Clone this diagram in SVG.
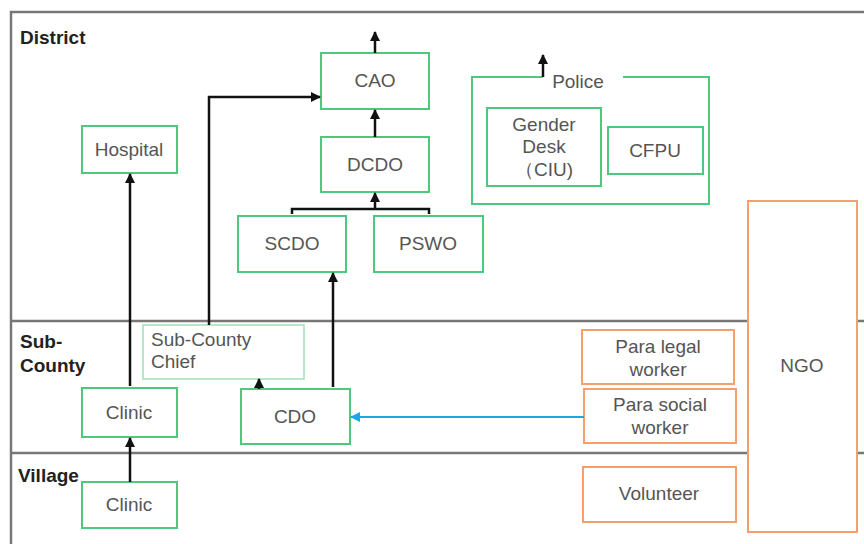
<svg xmlns="http://www.w3.org/2000/svg" width="864" height="544" viewBox="0 0 864 544">
<defs>
<marker id="ah" viewBox="0 0 10 10" refX="9" refY="5" markerWidth="4" markerHeight="4" orient="auto-start-reverse" markerUnits="strokeWidth"><path d="M0,0 L10,5 L0,10 z" fill="#111"/></marker>
<marker id="ahb" viewBox="0 0 10 10" refX="9" refY="5" markerWidth="5" markerHeight="5" orient="auto" markerUnits="strokeWidth"><path d="M0,0 L10,5 L0,10 z" fill="#1aa7e8"/></marker>
<style>
.frame{fill:none;stroke:#777;stroke-width:2.5}
.g{fill:#fff;stroke:#4cc97e;stroke-width:2}
.gl{fill:#fff;stroke:#9fe0b8;stroke-width:1.5}
.o{fill:#fff;stroke:#f4a06e;stroke-width:2}
.t{font-family:"Liberation Sans",Arial,sans-serif;font-size:19px;fill:#555;text-anchor:middle}
.tl{font-family:"Liberation Sans",Arial,sans-serif;font-size:19px;fill:#555}
.lab{font-family:"Liberation Sans",Arial,sans-serif;font-size:19px;font-weight:bold;fill:#222}
.c{fill:none;stroke:#111;stroke-width:2.5}
</style>
</defs>
<g id="frame">
<path class="frame" d="M11,544 V12 H864"/>
<line class="frame" x1="11" y1="321" x2="864" y2="321"/>
<line class="frame" x1="11" y1="453" x2="864" y2="453"/>
<text class="lab" x="20" y="44">District</text>
<text class="lab" x="20" y="348">Sub-</text>
<text class="lab" x="20" y="372">County</text>
<text class="lab" x="18" y="482">Village</text>
</g>
<g id="ngo"><rect class="o" x="748" y="201" width="109" height="331"/><text class="t" x="802" y="372">NGO</text></g>
<g id="police">
<path fill="none" stroke="#4cc97e" stroke-width="2" d="M543,77 H472 V204 H709 V77 H623"/>
<text class="t" x="578" y="88">Police</text>
</g>
<g id="gender-desk"><rect class="g" x="487" y="108" width="114" height="78"/><text class="t" x="544" y="131">Gender</text><text class="t" x="544" y="153">Desk</text><text class="t" x="544" y="176">（CIU)</text></g>
<g id="cfpu"><rect class="g" x="608" y="127" width="95" height="47"/><text class="t" x="655" y="157">CFPU</text></g>
<g id="cao"><rect class="g" x="321" y="53" width="108" height="56"/><text class="t" x="375" y="87">CAO</text></g>
<g id="dcdo"><rect class="g" x="321" y="137" width="108" height="55"/><text class="t" x="375" y="171">DCDO</text></g>
<g id="scdo"><rect class="g" x="238" y="216" width="108" height="56"/><text class="t" x="292" y="250">SCDO</text></g>
<g id="pswo"><rect class="g" x="374" y="216" width="109" height="56"/><text class="t" x="428" y="250">PSWO</text></g>
<g id="hospital"><rect class="g" x="82" y="126" width="95" height="47"/><text class="t" x="129" y="156">Hospital</text></g>
<g id="sub-county-chief"><rect class="gl" x="143" y="325" width="161" height="54"/><text class="tl" x="151" y="346">Sub-County</text><text class="tl" x="151" y="368">Chief</text></g>
<g id="clinic-sub"><rect class="g" x="82" y="388" width="95" height="49"/><text class="t" x="129" y="419">Clinic</text></g>
<g id="cdo"><rect class="g" x="241" y="389" width="109" height="55"/><text class="t" x="295" y="423">CDO</text></g>
<g id="clinic-village"><rect class="g" x="82" y="482" width="95" height="46"/><text class="t" x="129" y="511">Clinic</text></g>
<g id="para-legal"><rect class="o" x="582" y="330" width="152" height="54"/><text class="t" x="658" y="353">Para legal</text><text class="t" x="658" y="376">worker</text></g>
<g id="para-social"><rect class="o" x="584" y="389" width="152" height="54"/><text class="t" x="660" y="411">Para social</text><text class="t" x="660" y="434">worker</text></g>
<g id="volunteer"><rect class="o" x="583" y="467" width="153" height="55"/><text class="t" x="659" y="500">Volunteer</text></g>
<g id="connectors">
<line class="c" x1="375" y1="53" x2="375" y2="32" marker-end="url(#ah)"/>
<line class="c" x1="375" y1="137" x2="375" y2="110" marker-end="url(#ah)"/>
<line class="c" x1="375" y1="209" x2="375" y2="193" marker-end="url(#ah)"/>
<path class="c" d="M292,214 V209 H429 V214"/>
<line class="c" x1="543" y1="77" x2="543" y2="55" marker-end="url(#ah)"/>
<path class="c" d="M209,325 V97 H320" marker-end="url(#ah)"/>
<line class="c" x1="130" y1="386" x2="130" y2="174" marker-end="url(#ah)"/>
<line class="c" x1="130" y1="482" x2="130" y2="438" marker-end="url(#ah)"/>
<line class="c" x1="259" y1="389" x2="259" y2="379" marker-end="url(#ah)"/>
<line class="c" x1="333" y1="387" x2="333" y2="273" marker-end="url(#ah)"/>
<line x1="584" y1="417" x2="351" y2="417" stroke="#1aa7e8" stroke-width="2" marker-end="url(#ahb)"/>
</g>
</svg>
